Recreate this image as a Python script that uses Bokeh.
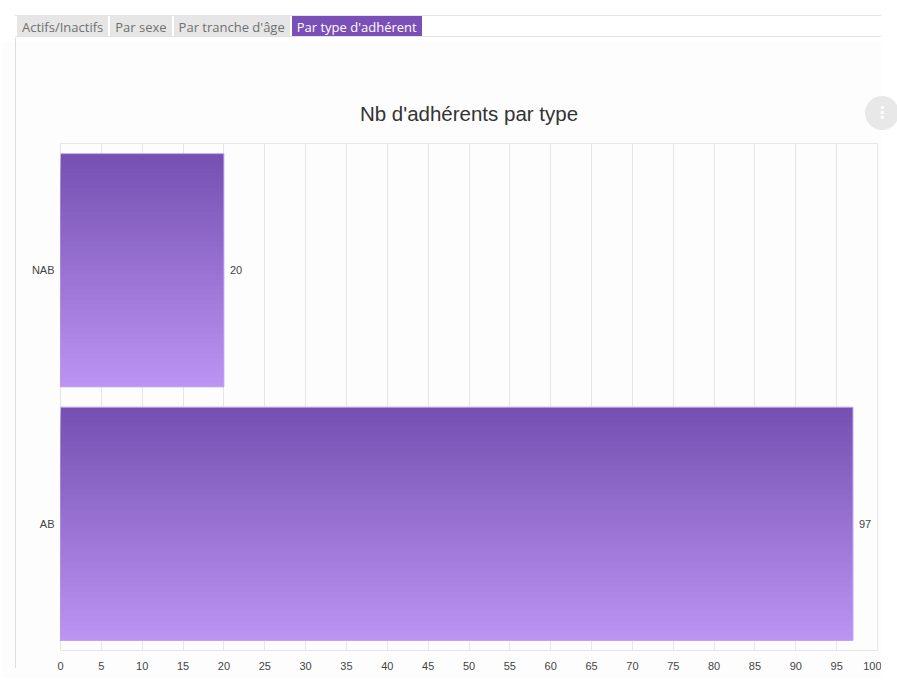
from bokeh.plotting import figure
from bokeh.models import ColumnDataSource, Div, FactorRange, Range1d
from bokeh.layouts import column
from bokeh.transform import dodge
from bokeh.core.properties import value
from bokeh.embed import file_html
from bokeh.resources import INLINE

# ---- data ----
types = ["AB", "NAB"]          # bottom to top
counts = [97, 20]
x_ticks = list(range(0, 101, 5))
tab_labels = ["Actifs/Inactifs", "Par sexe", "Par tranche d'âge", "Par type d'adhérent"]
active_tab = 3
title_text = "Nb d'adhérents par type"

# ---- tabs strip ----
tab_html = []
for i, t in enumerate(tab_labels):
    if i == active_tab:
        st = "background:#7a4fb7;color:#ffffff;"
    else:
        st = "background:#e6e6e6;color:#707070;"
    tab_html.append(
        f'<span style="display:inline-block;{st}padding:0px 5px;margin-right:2px;'
        f'height:22px;line-height:22px;vertical-align:top;">{t}</span>'
    )
menu_html = (
    '<div style="position:absolute;left:860px;top:91px;width:34px;height:34px;'
    'border-radius:17px;background:#e8e8e8;color:#ffffff;font-family:\'DejaVu Sans\';'
    'font-weight:bold;font-size:16px;line-height:34px;text-align:center;z-index:10;">&#8942;</div>'
)
panel_line_html = (
    '<div style="position:absolute;left:10px;top:33px;width:1px;height:630px;'
    'background:#dddddd;z-index:10;"></div>'
)
tabs = Div(
    text=(
        '<div style="padding-top:10px;padding-left:10px;position:relative;">'
        '<div style="width:866px;border-top:1px solid #e4e4e4;border-bottom:1px solid #e4e4e4;'
        'background:#ffffff;font-family:\'Open Sans\',sans-serif;font-size:13px;'
        'padding-left:2px;height:22px;white-space:nowrap;overflow:hidden;">'
        + "".join(tab_html) + "</div>" + menu_html + panel_line_html + "</div>"
    ),
    width=881, height=31,
    styles={"overflow": "visible", "z-index": "10"},
)

# ---- chart ----
src = ColumnDataSource(dict(type=types, count=counts, label=[str(c) for c in counts]))

p = figure(
    y_range=FactorRange(factors=types),
    x_range=Range1d(0, 100),
    width=881, height=637,
    output_backend="svg", toolbar_location=None,
    min_border_left=60, min_border_right=4, min_border_top=102, min_border_bottom=28,
    background_fill_color="#fdfdfd", border_fill_color="#fdfdfd",
    outline_line_color="#e6e6e6",
)

p.title.text = title_text
p.title.align = "center"
p.title.text_font = "Liberation Sans"
p.title.text_font_size = "20.5px"
p.title.text_font_style = "normal"
p.title.text_color = "#333333"
p.title.standoff = 37

# gradient bars: slices, each reaching down to the bar bottom so that no seams show
bar_h = 0.92
n = 48
c_top = (118, 80, 178)
c_bot = (187, 147, 243)
for i in range(n):
    f = i / (n - 1)
    col = "#%02x%02x%02x" % tuple(int(round(a + (b - a) * f)) for a, b in zip(c_top, c_bot))
    h_i = bar_h - i * bar_h / n
    off = bar_h / 2 - i * bar_h / n - h_i / 2
    p.hbar(y=dodge("type", off, range=p.y_range), left=0, right="count",
           height=h_i, fill_color=col, line_color=None, source=src)
p.hbar(y="type", left=0, right="count", height=bar_h, fill_color=None,
       line_color="#c2a8ee", line_width=1, source=src)

p.text(x="count", y="type", text="label", x_offset=6, source=src,
       text_baseline="middle", text_align="left", text_font=value("Liberation Sans"),
       text_font_size="11px", text_color="#444444")

p.xaxis.ticker = x_ticks
p.xaxis.major_tick_line_color = None
p.xaxis.minor_tick_line_color = None
p.xaxis.axis_line_color = None
p.xaxis.major_label_standoff = 5
p.xaxis.major_label_text_font = "Liberation Sans"
p.xaxis.major_label_text_font_size = "11px"
p.xaxis.major_label_text_color = "#444444"

p.yaxis.major_tick_line_color = None
p.yaxis.axis_line_color = None
p.yaxis.major_label_standoff = 0
p.yaxis.major_label_text_font = "Liberation Sans"
p.yaxis.major_label_text_font_size = "11px"
p.yaxis.major_label_text_color = "#444444"

p.xgrid.grid_line_color = "#e6e6e6"
p.ygrid.grid_line_color = None

layout = column(tabs, p, spacing=0)
open("out.html", "w").write(file_html(layout, INLINE))
